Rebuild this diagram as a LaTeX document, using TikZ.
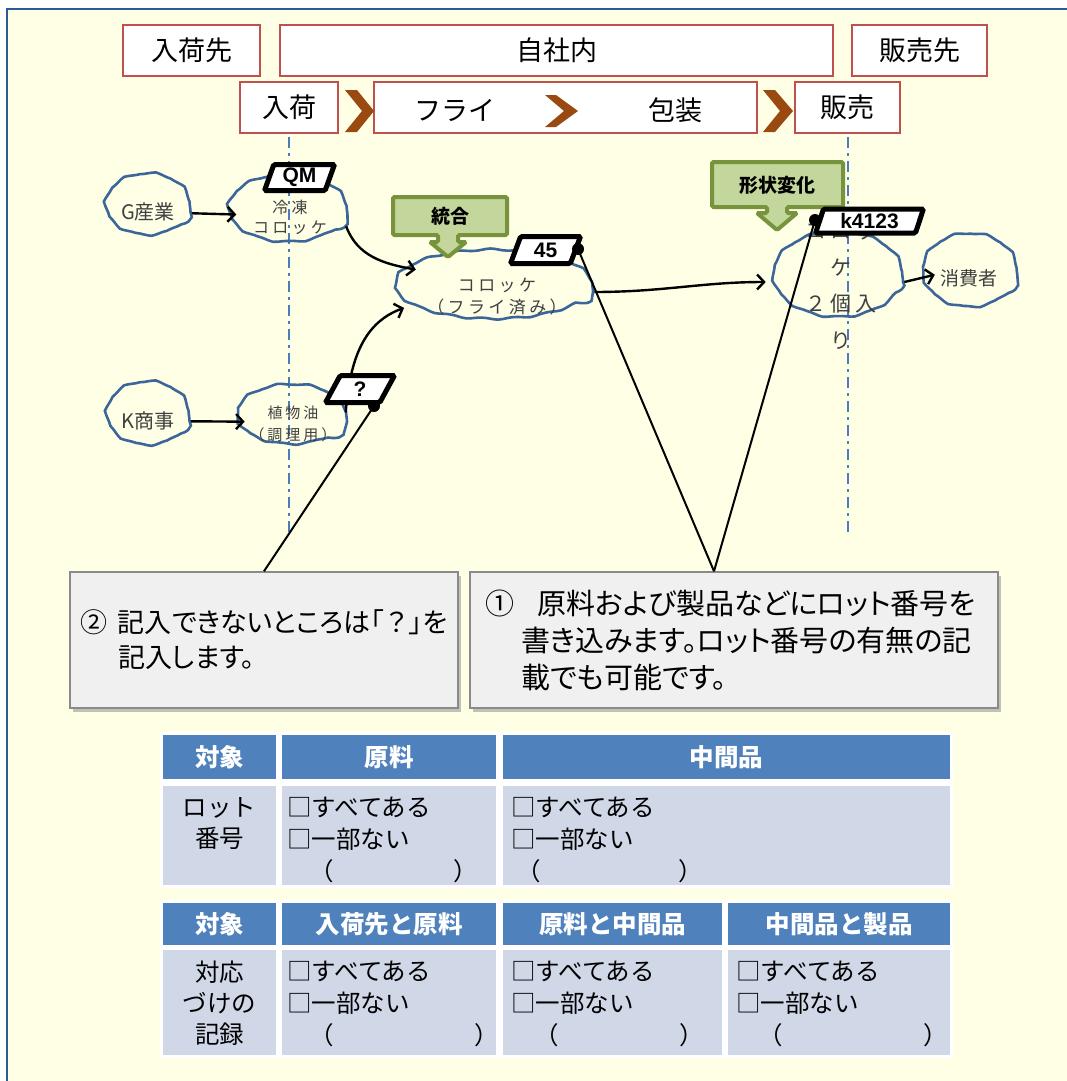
\documentclass[tikz,border=0pt]{standalone}
\usepackage{fontspec}
\setmainfont{Noto Sans CJK JP}
\newfontfamily\pfont[RawFeature=+palt]{Noto Sans CJK JP}
\newfontfamily\csfont[LetterSpace=20]{Noto Sans CJK JP}
\newfontfamily\tagfont{Liberation Sans}
\usetikzlibrary{shapes.geometric,decorations.pathmorphing,arrows.meta,calc,shadows}
\definecolor{bgyellow}{HTML}{FFFFE6}
\definecolor{frameblue}{HTML}{2C5A96}
\definecolor{boxred}{HTML}{C0504D}
\definecolor{chevcol}{HTML}{9A4A10}
\definecolor{dashblue}{HTML}{4A7EBB}
\definecolor{cloudblue}{HTML}{3C6699}
\definecolor{greenfill}{HTML}{C3D69B}
\definecolor{greenline}{HTML}{77933C}
\definecolor{notefill}{HTML}{F0F0F0}
\definecolor{noteline}{HTML}{8A8A8A}
\definecolor{headblue}{HTML}{4F81BD}
\definecolor{cellblue}{HTML}{D0D8E8}
\definecolor{ctextcol}{HTML}{404040}
\begin{document}
\begin{tikzpicture}[x=1pt,y=-1pt,
  topbox/.style={draw=boxred, line width=2.5pt, fill=white, inner sep=0pt, font=\fontsize{27}{30}\selectfont},
  toptext/.style={inner sep=0pt, font=\fontsize{27}{30}\selectfont},
  chev/.style={fill=chevcol, draw=none},
  vline/.style={dashblue, line width=2pt, dash pattern=on 11pt off 5pt on 3pt off 5pt},
  cloud/.style={ellipse, draw=cloudblue, line width=2.6pt, inner sep=0pt, decorate, decoration={snake, amplitude=0.9pt, segment length=32pt}},
  ctext/.style={text=ctextcol, align=center, inner sep=0pt},
  flow/.style={line width=2.4pt, -{Straight Barb[length=7pt,width=15pt]}},
  tagbox/.style={trapezium, trapezium left angle=72, trapezium right angle=108, trapezium stretches=true, draw=black, fill=white, line width=5pt, rounded corners=1.5pt, inner sep=0pt, font=\tagfont\bfseries\fontsize{21}{22}\selectfont},
  dot/.style={circle, fill=black, inner sep=0pt, minimum size=12pt},
  callout/.style={line width=2pt},
  gshape/.style={fill=greenfill, draw=greenline, line width=4pt, rounded corners=1.5pt},
  gtext/.style={inner sep=0pt, font=\bfseries\fontsize{19}{22}\selectfont},
  note/.style={fill=notefill, draw=noteline, line width=1.5pt, inner ysep=0pt, align=left, drop shadow={shadow xshift=3pt, shadow yshift=-4pt, fill=black!40, opacity=0.6}},
  head/.style={fill=headblue, text=white, inner sep=0pt, font=\bfseries\fontsize{24.5}{28}\selectfont},
  cell/.style={fill=cellblue, inner sep=0pt},
  ttext/.style={align=left, inner sep=0pt, font=\fontsize{24.5}{32}\selectfont},
  ltext/.style={align=center, inner sep=0pt, font=\fontsize{24.5}{31}\selectfont},
]
% background and frame
\fill[white] (0,0) rectangle (1067,1081);
\useasboundingbox (0,0) rectangle (1067,1081);
\draw[fill=bgyellow, draw=frameblue, line width=2.5pt] (7,9) rectangle (1085,1095);

% top boxes
\node[topbox, minimum width=137, minimum height=51] (src) at (191.5,50.5) {入荷先};
\node[topbox, minimum width=553, minimum height=51] (own) at (556.5,50.5) {自社内};
\node[topbox, minimum width=135, minimum height=51] (dst) at (919.5,50.5) {販売先};
\node[topbox, minimum width=98, minimum height=51] (rcv) at (289,107.5) {入荷};
\node[topbox, minimum width=383, minimum height=51] (proc) at (565.5,107.5) {};
\node[toptext] (fry) at (455,110) {フライ};
\node[toptext] (pack) at (675,110) {包装};
\node[topbox, minimum width=105, minimum height=51] (sell) at (847.5,107.5) {販売};
\fill[chev] (345,90) -- (357,90) -- (374,111) -- (357,132) -- (345,132) -- (362,111) -- cycle;
\fill[chev] (545,95) -- (556,95) -- (578,111) -- (556,127) -- (545,127) -- (564,111) -- cycle;
\fill[chev] (763,90) -- (775,90) -- (793,111) -- (775,132) -- (763,132) -- (780,111) -- cycle;

% vertical dash-dot lines
\coordinate (e1) at (289,535);
\coordinate (e2) at (847.5,535);
\draw[vline] ($(rcv.south)+(0,3)$) -- (e1);
\draw[vline] ($(sell.south)+(0,3)$) -- (e2);

% clouds
\node[cloud, minimum width=85, minimum height=62] (cG) at (148,212) {};
\node[cloud, minimum width=119, minimum height=68] (cF) at (288,216) {};
\node[cloud, minimum width=198, minimum height=69] (cC) at (494,292) {};
\node[cloud, minimum width=83, minimum height=64] (cK) at (148,421) {};
\node[cloud, minimum width=110, minimum height=60] (cO) at (292,422) {};
\node[cloud, minimum width=130, minimum height=86] (cP) at (838,282) {};
\node[cloud, minimum width=95, minimum height=74] (cS) at (970,278) {};

\node[ctext, font=\fontsize{20}{24}\selectfont] (lG) at (cG) {G産業};
\node[ctext, font=\csfont\fontsize{16}{20}\selectfont] (lF) at (290,217) {冷凍\\コロッケ};
\node[ctext, font=\csfont\fontsize{17}{22}\selectfont] (lC) at (497,297) {コロッケ\\（フライ済み）};
\node[ctext, font=\fontsize{20}{24}\selectfont] (lK) at (cK) {K商事};
\node[ctext, font=\csfont\fontsize{15}{22}\selectfont] (lO) at (293,424) {植物油\\（調理用）};
\node[ctext, font=\csfont\fontsize{21}{36.5}\selectfont] (lP) at (841,287) {コロッ\\ケ\\２個入\\り};
\node[ctext, font=\fontsize{19}{24}\selectfont] (lS) at (969,278) {消費者};

% flow arrows
\draw[flow, shorten >=-9pt] (cG) -- (cF);
\draw[flow, shorten >=-9pt] (cK) -- (cO);
\draw[flow] (cF.-10) to[out=-70, in=170] (cC.164);
\draw[flow] (cO.10) to[out=85, in=200] (cC.190);
\draw[flow, shorten >=6pt] (cC.east) to[out=0, in=180] (cP.west);
\draw[flow, shorten >=-14pt] (cP.east) -- (cS.west);

% green callouts
\filldraw[gshape] (393,197) -- (507,197) -- (507,235) -- (458,235) -- (458,242) -- (466,242) -- (448,257) -- (430,242) -- (438,242) -- (438,235) -- (393,235) -- cycle;
\node[gtext] (g1) at (450,216) {統合};
\filldraw[gshape] (712,162) -- (843,162) -- (843,207) -- (787,207) -- (787,213) -- (797,213) -- (777,230) -- (757,213) -- (767,213) -- (767,207) -- (712,207) -- cycle;
\node[gtext] (g2) at (777,185) {形状変化};

% tags
\node[tagbox, minimum width=70, minimum height=26] (tQM) at (299.5,177.5) {QM};
\node[tagbox, minimum width=70, minimum height=27] (t45) at (545.5,250) {45};
\node[tagbox, minimum width=69, minimum height=27] (tQ) at (360,389) {?};
\node[tagbox, minimum width=108, minimum height=24] (tK) at (869.5,221) {k4123};
\node[dot] (d45) at (578,249) {};
\node[dot] (dQ) at (374,406) {};
\node[dot] (dK) at (815,220) {};

% notes
\node[note, text width=368, minimum height=136, inner xsep=10pt, font=\pfont\fontsize{27}{35}\selectfont] (n2) at (264,640)
  {\makebox[38pt][l]{②}記入できないところは「\hspace{3pt}？\hspace{3pt}」を\\\hspace*{38pt}記入します。};
\node[note, text width=498, minimum height=136, inner xsep=15pt, font=\pfont\fontsize{29}{37}\selectfont] (n1) at (734,640)
  {\makebox[52pt][l]{①}原料および製品などにロット番号を\\\hspace*{36pt}書き込みます。ロット番号の有無の記\\\hspace*{36pt}載でも可能です。};
\coordinate (v) at ($(n1.north)+(-20,0)$);
\draw[callout] (dQ.center) -- (n2.north);
\draw[callout] (d45.center) -- (v);
\draw[callout] (dK.center) -- (v);

% table 1
\fill[white] (160,732) rectangle (953,888);
\node[head, minimum width=113, minimum height=44] (h11) at (219.5,757) {対象};
\node[head, minimum width=214, minimum height=44] (h12) at (389,757) {原料};
\node[head, minimum width=447, minimum height=44] (h13) at (726.5,757) {中間品};
\node[cell, minimum width=113, minimum height=99] (b11) at (219.5,835.5) {};
\node[cell, minimum width=214, minimum height=99] (b12) at (389,835.5) {};
\node[cell, minimum width=447, minimum height=99] (b13) at (726.5,835.5) {};
\node[ltext] (x11) at (219.5,824) {ロット\\番号};
\node[ttext, anchor=west] (x12) at (287,840) {□すべてある\\□一部ない\\\hspace*{22pt}（\hspace*{119.5pt}）};
\node[ttext, anchor=west] (x13) at (511,840) {□すべてある\\□一部ない\\\hspace*{5pt}（\hspace*{137.5pt}）};

% table 2
\fill[white] (160,900) rectangle (953,1058);
\node[head, minimum width=113, minimum height=42] (h21) at (219.5,924) {対象};
\node[head, minimum width=214, minimum height=42] (h22) at (389,924) {入荷先と原料};
\node[head, minimum width=219, minimum height=42] (h23) at (612.5,924) {原料と中間品};
\node[head, minimum width=222, minimum height=42] (h24) at (839,924) {中間品と製品};
\node[cell, minimum width=113, minimum height=105] (b21) at (219.5,1002.5) {};
\node[cell, minimum width=214, minimum height=105] (b22) at (389,1002.5) {};
\node[cell, minimum width=219, minimum height=105] (b23) at (612.5,1002.5) {};
\node[cell, minimum width=222, minimum height=105] (b24) at (839,1002.5) {};
\node[ltext] (x21) at (219.5,1003) {対応\\づけの\\記録};
\node[ttext, anchor=west] (x22) at (287,1004) {□すべてある\\□一部ない\\\hspace*{22pt}（\hspace*{140.5pt}）};
\node[ttext, anchor=west] (x23) at (511,1004) {□すべてある\\□一部ない\\\hspace*{23pt}（\hspace*{120.5pt}）};
\node[ttext, anchor=west] (x24) at (736,1004) {□すべてある\\□一部ない\\\hspace*{22pt}（\hspace*{140.5pt}）};
\end{tikzpicture}
\end{document}
